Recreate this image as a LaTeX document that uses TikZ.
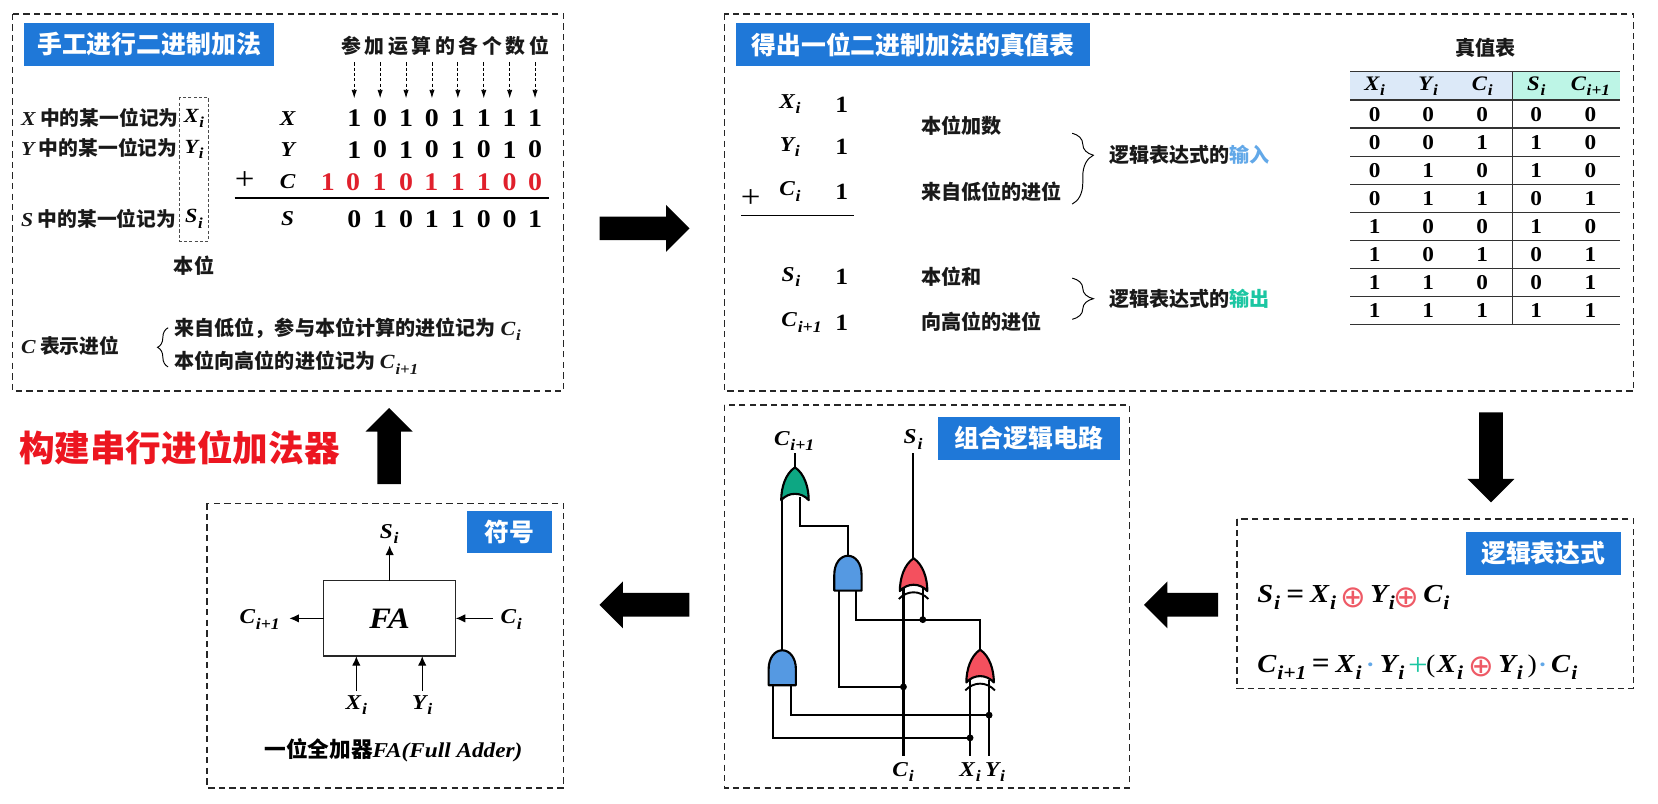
\documentclass[tikz,border=0pt]{standalone}
\usepackage{fontspec}
\usepackage{graphicx}
\usetikzlibrary{shapes.arrows,decorations.pathreplacing,arrows.meta}
\newfontfamily\cjkfam{Noto Sans CJK SC}
\newfontfamily\mfam{Liberation Serif}[FakeStretch=1.1]
\newfontfamily\dvfam{DejaVu Sans}
\setmainfont{Liberation Serif}
\newcommand\fs[1]{\fontsize{#1}{#1}\selectfont}
\newcommand\mf{\mfam\bfseries\itshape}
\newcommand\mv[2]{{\mf #1\kern.04em\raisebox{-.26em}{\scalebox{.76}{#2}}}}
\definecolor{tblue}{HTML}{1F78D8}
\definecolor{gblue}{HTML}{5599E2}
\definecolor{gred}{HTML}{F4505E}
\definecolor{ggreen}{HTML}{0DA783}
\definecolor{inblue}{HTML}{62A8E8}
\definecolor{outgreen}{HTML}{1CC6A2}
\definecolor{cred}{HTML}{E0202C}
\definecolor{opred}{HTML}{EE5A66}
\definecolor{headl}{HTML}{DCE9F8}
\definecolor{headr}{HTML}{BDF5E6}
\definecolor{bigred}{HTML}{EC1620}
\tikzset{
  every node/.style={inner sep=0pt,outer sep=0pt},
  panel/.style={draw=black!85,line width=1.5pt,dash pattern=on 6pt off 4pt},
  titlebox/.style={fill=tblue,text=white,font=\cjkfam\bfseries\fs{23.5},anchor=center},
  lab/.style={font=\cjkfam\bfseries\fs{19},text=black!90},
  labn/.style={font=\cjkfam\bfseries\fs{18.7},text=black!90},
  mth/.style={font=\mfam\bfseries\itshape\fs{20}},
  mths/.style={font=\mfam\bfseries\itshape\fs{19.5}},
  mthb/.style={font=\mfam\bfseries\itshape\fs{24.5}},
  eqs/.style={font=\mfam\bfseries\fs{27}},
  dig/.style={font=\mfam\bfseries\fs{24}},
  digm/.style={font=\mfam\bfseries\fs{22}},
  digt/.style={font=\mfam\bfseries\fs{20}},
  bigarrow/.style={single arrow,fill=black,minimum width=44pt,minimum height=85pt,single arrow head extend=11pt,inner sep=11pt},
  wire/.style={line width=2pt,black},
  jdot/.style={circle,fill=black,minimum size=6.5pt},
  thin arrow/.style={line width=1.1pt,-{Latex[length=9pt,width=8pt]}},
  bracefine/.style={line width=.9pt,decorate},
  gate/.style={draw=black,line width=2pt,line join=round},
  tline/.style={line width=1.1pt,black!80},
  oplus/.style={font=\dvfam\fs{29},text=opred},
}
\newcommand\andgate[2]{% position (bottom centre), colour
  \begin{scope}[shift={#1}]
    \fill[gate,fill=#2] (-12.9,0) -- (-12.9,-15) .. controls (-12.9,-26) and (-7,-33) .. (0,-33) .. controls (7,-33) and (12.9,-26) .. (12.9,-15) -- (12.9,0) -- cycle;
  \end{scope}}
\newcommand\orgate[2]{%
  \begin{scope}[shift={#1}]
    \fill[gate,fill=#2] (-13,0) .. controls (-13,-12) and (-9,-25) .. (0,-31) .. controls (9,-25) and (13,-12) .. (13,0) .. controls (6,-8) and (-6,-8) .. (-13,0) -- cycle;
  \end{scope}}
\newcommand\xorarc[1]{%
  \begin{scope}[shift={#1}]
    \draw[line width=1.8pt] (-14,7.5) .. controls (-6,-1) and (6,-1) .. (14,7.5);
  \end{scope}}
\begin{document}
\begin{tikzpicture}[x=1pt,y=-1pt]
\useasboundingbox (0,0) rectangle (1568,760);
% panels
\draw[panel] (12,13) rectangle (533,370);
\draw[panel] (685,13) rectangle (1545,370);
\draw[panel] (1170,491) rectangle (1545,651);
\draw[panel] (685,383) rectangle (1068,745);
\draw[panel] (196,476) rectangle (533,745);
% titles
\node[titlebox,minimum width=236pt,minimum height=40pt] (t1) at (141,42) {手工进行二进制加法};
\node[titlebox,minimum width=335pt,minimum height=40pt] (t2) at (863.5,42) {得出一位二进制加法的真值表};
\node[titlebox,minimum width=147pt,minimum height=41pt] (t3) at (1459.5,523.5) {逻辑表达式};
\node[titlebox,minimum width=172pt,minimum height=41pt] (t4) at (972.8,414.5) {组合逻辑电路};
\node[titlebox,minimum width=81pt,minimum height=40pt] (t5) at (482,503) {符号};
% big arrows
\node[bigarrow] (ba1) at (604,216) {};
\node[bigarrow,rotate=-90] (ba2) at (1410,427) {};
\node[bigarrow,rotate=180,minimum height=70pt] (ba3) at (1122.5,572) {};
\node[bigarrow,rotate=180] (ba4) at (615,572) {};
\node[bigarrow,rotate=90,minimum height=72pt] (ba5) at (368,427.5) {};
\node[font=\cjkfam\bfseries\fs{33.7},text=bigred,anchor=west] (red) at (18,423.5) {构建串行进位加法器};

% ---------- panel 1
\node[lab,anchor=center,font=\cjkfam\bfseries\fs{18.8}] (hdr) at (421,43.5) {\addfontfeature{LetterSpace=18}参加运算的各个数位};
\foreach \n/\x/\a/\b/\s/\c in {1/335/1/1/0/1,2/359.5/0/0/1/0,3/384/1/1/0/1,4/408.5/0/0/1/0,5/433/1/1/1/1,6/457.5/1/0/0/1,7/482/1/1/0/0,8/506/1/0/1/0}{
  \coordinate (hs\n) at (\x,59);
  \coordinate (he\n) at (\x,93);
  \draw[line width=.8pt,dash pattern=on 3pt off 2pt,-{Latex[length=8pt,width=5pt]}] (hs\n) -- (he\n);
  \node[dig] (rx\n) at (\x,112) {\a};
  \node[dig] (ry\n) at (\x,141.5) {\b};
  \node[dig] (rs\n) at (\x,207) {\s};
}
\foreach \n/\x/\c in {0/310/1,1/334/0,2/359/1,3/384/0,4/408/1,5/433/1,6/457.5/1,7/482/0,8/506/0}{
  \node[dig,text=cred] (rc\n) at (\x,172) {\c};
}
\node[mth] (lx) at (272,112) {X};
\node[mth] (ly) at (272,141.5) {Y};
\node[mth] (lc) at (272,172) {C};
\node[mth] (ls) at (272,207) {S};
\node[font=\mfam\fs{30}] (plus) at (231.5,171) {+};
\coordinate (ll) at (222,187);
\coordinate (lr) at (519,187);
\draw[line width=1.6pt] (ll) -- (lr);
\node[labn,anchor=west] (n1) at (20,111) {{\mf X} 中的某一位记为};
\node[labn,anchor=west] (n2) at (20,140) {{\mf Y} 中的某一位记为};
\node[labn,anchor=west] (n3) at (20,207) {{\mf S} 中的某一位记为};
\draw[line width=.9pt,black!70,dash pattern=on 3pt off 2pt] (170,92) rectangle (197,228);
\node[font=\mfam\bfseries\itshape\fs{19}] (xi) at (183.5,112) {\mv{X}{i}};
\node[font=\mfam\bfseries\itshape\fs{19}] (yi) at (183.5,141) {\mv{Y}{i}};
\node[font=\mfam\bfseries\itshape\fs{19}] (si) at (183.5,207) {\mv{S}{i}};
\node[lab] (bw) at (183.5,251) {本位};
\node[labn,anchor=west] (cc) at (20,327.5) {{\mf C} 表示进位};
\draw[bracefine,decoration={brace,amplitude=10pt,mirror}] (159,310) -- (159,347);
\node[lab,anchor=west] (c1) at (165,311) {来自低位，参与本位计算的进位记为 \mv{C}{i}};
\node[lab,anchor=west] (c2) at (165,343) {本位向高位的进位记为 \mv{C}{i+1}};

% ---------- panel 2
\node[mth] (a1) at (747,98.5) {\mv{X}{i}};
\node[mth] (a2) at (747,139) {\mv{Y}{i}};
\node[mth] (a3) at (747,181) {\mv{C}{i}};
\node[mth] (a4) at (748,262) {\mv{S}{i}};
\node[mth,anchor=west] (a5) at (739,305) {\mv{C}{i+1}};
\foreach \n/\y in {1/99,2/139,3/181,4/262,5/305}{
  \node[digm] (b\n) at (796,\y) {1};
}
\node[font=\mfam\fs{30}] (p2) at (710,188) {+};
\coordinate (l2a) at (701,204);
\coordinate (l2b) at (808,204);
\draw[line width=1.4pt] (l2a) -- (l2b);
\node[lab,anchor=west] (d1) at (871,119) {本位加数};
\node[lab,anchor=west] (d2) at (871,181) {来自低位的进位};
\node[lab,anchor=west] (d3) at (871,261.5) {本位和};
\node[lab,anchor=west] (d4) at (871,304) {向高位的进位};
\draw[bracefine,decoration={brace,amplitude=20pt,aspect=.31}] (1014,126) -- (1014,193);
\draw[bracefine,decoration={brace,amplitude=20pt,aspect=.5}] (1014,263) -- (1014,302);
\node[lab,anchor=west] (e1) at (1049,146.5) {逻辑表达式的{\color{inblue}输入}};
\node[lab,anchor=west] (e2) at (1049,282.5) {逻辑表达式的{\color{outgreen}输出}};

% truth table
\node[lab] (tt) at (1404.5,45.5) {真值表};
\fill[headl] (1277,68) rectangle (1430,94.5);
\fill[headr] (1430,68) rectangle (1532,94.5);
\foreach \n/\y in {0/68,1/94.5,2/121,3/147.7,4/174.2,5/200.8,6/227.3,7/253.9,8/280.4,9/307}{
  \coordinate (tl\n) at (1277,\y);
  \coordinate (tr\n) at (1532,\y);
  \draw[tline] (tl\n) -- (tr\n);
}
\coordinate (tdt) at (1430,68);
\coordinate (tdb) at (1430,307);
\draw[tline] (tdt) -- (tdb);
\node[mths] (hx) at (1300,81.5) {\mv{X}{i}};
\node[mths] (hy) at (1350.6,81.5) {\mv{Y}{i}};
\node[mths] (hc) at (1401.7,81.5) {\mv{C}{i}};
\node[mths] (hs) at (1452.8,81.5) {\mv{S}{i}};
\node[mths] (hd) at (1504,81.5) {\mv{C}{i+1}};
\foreach \r/\y/\a/\b/\c/\d/\e in {1/108/0/0/0/0/0,2/134.5/0/0/1/1/0,3/161/0/1/0/1/0,4/187.5/0/1/1/0/1,5/214/1/0/0/1/0,6/240.5/1/0/1/0/1,7/267/1/1/0/0/1,8/293.5/1/1/1/1/1}{
  \node[digt] (ta\r) at (1300,\y) {\a};
  \node[digt] (tb\r) at (1350.6,\y) {\b};
  \node[digt] (tc\r) at (1401.7,\y) {\c};
  \node[digt] (td\r) at (1452.8,\y) {\d};
  \node[digt] (te\r) at (1504,\y) {\e};
}

% ---------- panel 3 expressions
\node[mthb,anchor=west] (f1) at (1189,565) {\mv{S}{i}};
\node[eqs] (f2) at (1225,564) {=};
\node[mthb,anchor=west] (f3) at (1239,565) {\mv{X}{i}};
\node[oplus] (f4) at (1279.5,565) {⊕};
\node[mthb,anchor=west] (f5) at (1296,565) {\mv{Y}{i}};
\node[oplus] (f6) at (1330,565) {⊕};
\node[mthb,anchor=west] (f7) at (1346,565) {\mv{C}{i}};
\node[mthb,anchor=west] (g1) at (1189,631) {\mv{C}{i+1}};
\node[eqs] (g2) at (1249,630) {=};
\node[mthb,anchor=west] (g3) at (1263,631) {\mv{X}{i}};
\node[font=\mfam\bfseries\fs{22},text=inblue] (g4) at (1296,631) {·};
\node[mthb,anchor=west] (g5) at (1305,631) {\mv{Y}{i}};
\node[font=\mfam\fs{30},text=outgreen] (g6) at (1341,630) {+};
\node[font=\mfam\fs{24}] (g7) at (1353,630) {(};
\node[mthb,anchor=west] (g8) at (1359,631) {\mv{X}{i}};
\node[oplus] (g9) at (1401,631) {⊕};
\node[mthb,anchor=west] (g10) at (1417,631) {\mv{Y}{i}};
\node[font=\mfam\fs{24}] (g11) at (1449,630) {)};
\node[font=\mfam\bfseries\fs{22},text=inblue] (g12) at (1459,631) {·};
\node[mthb,anchor=west] (g13) at (1467,631) {\mv{C}{i}};

% ---------- panel 4 circuit
\coordinate (cOut) at (751.8,428.6);
\coordinate (orO) at (751.8,448);
\coordinate (orL) at (739.2,470);
\coordinate (orR) at (756.8,470);
\coordinate (j1) at (780,497.5);
\coordinate (amO) at (801.9,525.6);
\coordinate (amL) at (793.3,558);
\coordinate (amR) at (809.7,558);
\coordinate (sOut) at (863.3,428.6);
\coordinate (xuO) at (863.3,528);
\coordinate (xuL) at (854.4,556);
\coordinate (xuR) at (872.7,556);
\coordinate (cIn) at (854.4,714.5);
\coordinate (xlO) at (926.9,614.4);
\coordinate (xlL) at (917.4,643);
\coordinate (xlR) at (935.4,643);
\coordinate (xIn) at (917.4,714.5);
\coordinate (yIn) at (935.4,714.5);
\coordinate (alO) at (739.2,616);
\coordinate (alL) at (730.7,648);
\coordinate (alR) at (747.7,648);
\node[jdot] (dS) at (872.7,586) {};
\node[jdot] (dC) at (854.4,649.6) {};
\node[jdot] (dY) at (935.4,676.3) {};
\node[jdot] (dX) at (917.4,697.8) {};
\draw[wire] (cOut) -- (orO);
\draw[wire] (sOut) -- (xuO);
\draw[wire] (alO) -- (orL);
\draw[wire] (orR) |- (j1) -| (amO);
\draw[wire] (amL) |- (dC.center);
\draw[wire] (amR) |- (dS.center);
\draw[wire] (dS.center) -| (xlO);
\draw[wire] (xuR) -- (dS.center);
\draw[wire] (xuL) -- (cIn);
\draw[wire] (xlL) -- (xIn);
\draw[wire] (xlR) -- (yIn);
\draw[wire] (alL) |- (dX.center);
\draw[wire] (alR) |- (dY.center);
\orgate{(751.8,473)}{ggreen}
\andgate{(801.9,558.6)}{gblue}
\andgate{(739.8,648)}{gblue}
\orgate{(864,559)}{gred}
\xorarc{(864,559)}
\orgate{(926.9,645.4)}{gred}
\xorarc{(926.9,645.4)}
\node[mth] (lc1) at (751,417) {\mv{C}{i+1}};
\node[mth] (ls1) at (863.5,415.5) {\mv{S}{i}};
\node[mth] (lc2) at (854,730) {\mv{C}{i}};
\node[mth] (lx2) at (917.4,730) {\mv{X}{i}};
\node[mth] (ly2) at (941,730) {\mv{Y}{i}};

% ---------- panel 5 symbol
\node[draw=black!85,line width=1.3pt,minimum width=125pt,minimum height=71.5pt,font=\mfam\bfseries\itshape\fs{28}] (fa) at (368.5,584.8) {FA};
\node[mth] (sS) at (368,505) {\mv{S}{i}};
\node[mth] (sCo) at (245.5,586) {\mv{C}{i+1}};
\node[mth] (sCi) at (483.5,586) {\mv{C}{i}};
\node[mth] (sX) at (337,667) {\mv{X}{i}};
\node[mth] (sY) at (399.3,667) {\mv{Y}{i}};
\coordinate (aS) at (368.5,516);
\coordinate (aCo) at (273.7,584.8);
\coordinate (aCi) at (466,584.8);
\coordinate (aX) at (337,653.5);
\coordinate (aXe) at (337,620.5);
\coordinate (aY) at (399.3,653.5);
\coordinate (aYe) at (399.3,620.5);
\draw[thin arrow] (fa.north) -- (aS);
\draw[thin arrow] (fa.west) -- (aCo);
\draw[thin arrow] (aCi) -- (fa.east);
\draw[thin arrow] (aX) -- (aXe);
\draw[thin arrow] (aY) -- (aYe);
\node[anchor=west,font=\cjkfam\bfseries\fs{20.5}] (cap) at (250,710) {一位全加器{\mf\fs{20}FA}{\mfam\itshape\fs{20}(}{\mf\fs{20}F}{\mfam\itshape\fs{20}ull }{\mf\fs{20}A}{\mfam\itshape\fs{20}dder)}};
\end{tikzpicture}
\end{document}
